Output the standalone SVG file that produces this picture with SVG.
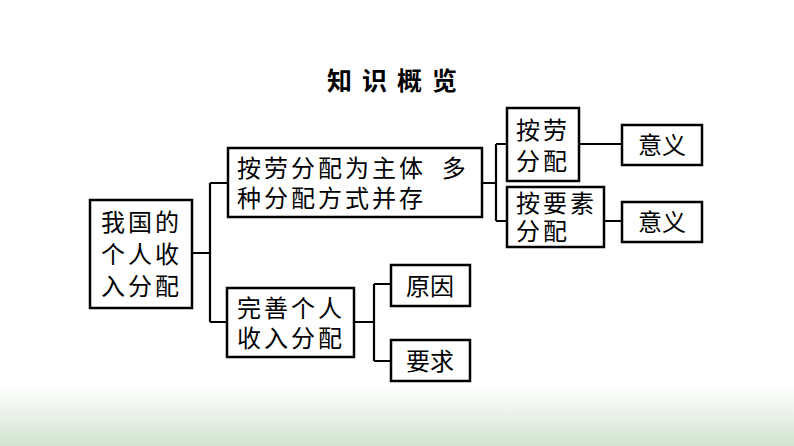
<svg xmlns="http://www.w3.org/2000/svg" width="794" height="446" viewBox="0 0 794 446">
<defs>
<linearGradient id="bg" x1="0" y1="0" x2="0" y2="1">
<stop offset="0" stop-color="#ffffff"/>
<stop offset="1" stop-color="#d3e4cf"/>
</linearGradient>
</defs>
<style>
.box{fill:#fff;stroke:#000;stroke-width:2.5}
.t{font-family:"Liberation Sans","Noto Sans CJK SC",sans-serif;font-size:24px;letter-spacing:3px;fill:#000;dominant-baseline:central}
.m{text-anchor:middle;letter-spacing:0}
.c{fill:none;stroke:#000;stroke-width:2.2}
.title{font-family:"Liberation Sans","Noto Sans CJK SC",sans-serif;font-size:25px;font-weight:bold;letter-spacing:10px;fill:#000;dominant-baseline:central}
</style>
<rect x="0" y="0" width="794" height="446" fill="#fff"/>
<rect x="0" y="385" width="794" height="61" fill="url(#bg)"/>
<text class="title" x="327" y="81">知识概览</text>
<g id="connectors">
<path class="c" d="M192,253 H210 M210,183 V322 M210,183 H228 M210,322 H227"/>
<path class="c" d="M482,183 H496 M496,144 V221 M496,144 H507 M496,221 H507"/>
<path class="c" d="M579,144 H622 M604,221 H622"/>
<path class="c" d="M354,322 H374 M374,284 V361 M374,284 H391 M374,361 H391"/>
</g>
<g id="n-main">
<rect class="box" x="90" y="200" width="102" height="108"/>
<text class="t" x="101" y="222">我国的</text>
<text class="t" x="101" y="254">个人收</text>
<text class="t" x="101" y="286">入分配</text>
</g>
<g id="n-top">
<rect class="box" x="228" y="148" width="254" height="69"/>
<text class="t" x="237" y="168" xml:space="preserve">按劳分配为主体 <tspan dx="6">多</tspan></text>
<text class="t" x="237" y="198">种分配方式并存</text>
</g>
<g id="n-bottom">
<rect class="box" x="227" y="288" width="127" height="69"/>
<text class="t" x="237" y="308">完善个人</text>
<text class="t" x="237" y="338">收入分配</text>
</g>
<g id="n-labor">
<rect class="box" x="507" y="108" width="72" height="73"/>
<text class="t" x="516" y="130">按劳</text>
<text class="t" x="516" y="161">分配</text>
</g>
<g id="n-factor">
<rect class="box" x="507" y="187" width="97" height="60"/>
<text class="t" x="516" y="203">按要素</text>
<text class="t" x="516" y="231">分配</text>
</g>
<g id="n-yiyi1">
<rect class="box" x="622" y="125" width="80" height="40"/>
<text class="t m" x="662" y="145">意义</text>
</g>
<g id="n-yiyi2">
<rect class="box" x="622" y="202" width="80" height="40"/>
<text class="t m" x="662" y="222">意义</text>
</g>
<g id="n-yuanyin">
<rect class="box" x="391" y="265" width="79" height="41"/>
<text class="t m" x="430" y="286">原因</text>
</g>
<g id="n-yaoqiu">
<rect class="box" x="391" y="340" width="79" height="41"/>
<text class="t m" x="430" y="361">要求</text>
</g>
</svg>
